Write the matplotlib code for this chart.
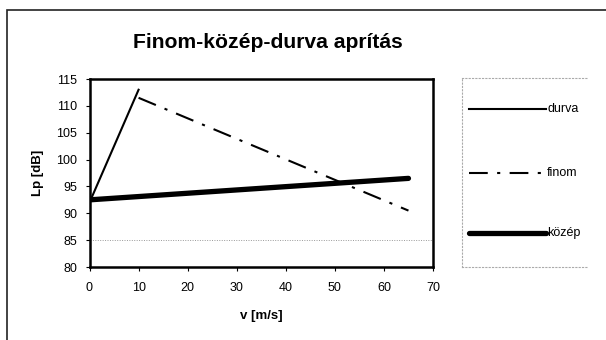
import matplotlib

matplotlib.use("Agg")
import matplotlib.pyplot as plt
from matplotlib.patches import Rectangle

plt.rcParams["font.family"] = ["Liberation Sans", "DejaVu Sans"]

# series: speed [m/s] vs sound pressure level [dB]
durva_v = [0, 10]
durva_lp = [92, 113]
finom_v = [10, 65]
finom_lp = [111.5, 90.5]
kozep_v = [0, 65]
kozep_lp = [92.5, 96.5]

x_ticks = [0, 10, 20, 30, 40, 50, 60, 70]
y_ticks = [80, 85, 90, 95, 100, 105, 110, 115]

W, H = 606, 340
fig = plt.figure(figsize=(W / 100, H / 100), dpi=100)


def fx(px):
    return px / W


def fy(py):
    return 1 - py / H


# outer chart frame (runs off the right and bottom edges)
fig.patches.append(
    Rectangle((fx(7), -0.2), 1.5, fy(10) + 0.2, transform=fig.transFigure,
              fill=False, edgecolor="#222222", linewidth=1.2)
)

ax = fig.add_axes([fx(89.5), fy(267), fx(433) - fx(89.5), fy(79) - fy(267)])

finom_style = dict(color="black", linewidth=1.5, dashes=(9, 4.5, 1.5, 4.5))
durva_style = dict(color="black", linewidth=1.5)
kozep_style = dict(color="black", linewidth=3.8, solid_capstyle="round")

ax.axhline(85, color="#999999", linewidth=0.7, linestyle=(0, (1, 1.5)), zorder=1)
ax.plot(kozep_v, kozep_lp, zorder=2, **kozep_style)
ax.plot(finom_v, finom_lp, zorder=3, **finom_style)
ax.plot(durva_v, durva_lp, zorder=4, **durva_style)

ax.set_xlim(0, 70)
ax.set_ylim(80, 115)
ax.set_xticks(x_ticks)
ax.set_yticks(y_ticks)
ax.tick_params(direction="out", length=3, width=0.8, labelsize=9, pad=6)
ax.tick_params(axis="x", pad=8)
for s in ax.spines.values():
    s.set_linewidth(1.8)

ax.set_xlabel("v [m/s]", fontsize=9.5, fontweight="bold", labelpad=11)
ax.set_ylabel("Lp [dB]", fontsize=9.5, fontweight="bold", labelpad=9)

fig.text(fx(268), fy(48), "Finom-közép-durva aprítás", ha="center", va="baseline",
         fontsize=15.2, fontweight="bold")

# legend panel on the right
lax = fig.add_axes([fx(462), fy(266.7), fx(588) - fx(462), fy(78.3) - fy(266.7)])
lax.set_xlim(0, 1)
lax.set_ylim(0, 1)
lax.set_xticks([])
lax.set_yticks([])
for name, s in lax.spines.items():
    s.set_color("#aaaaaa")
    s.set_linewidth(0.8)
    s.set_linestyle((0, (1, 2)))
lax.spines["right"].set_visible(False)

entries = [("durva", durva_style, 0.835), ("finom", finom_style, 0.496),
           ("közép", kozep_style, 0.177)]
for label, style, y in entries:
    lax.plot([0.056, 0.667], [y, y], **style)
    lax.text(0.675, y, label, va="center", ha="left", fontsize=9)

fig.savefig("out.png", dpi=100)
